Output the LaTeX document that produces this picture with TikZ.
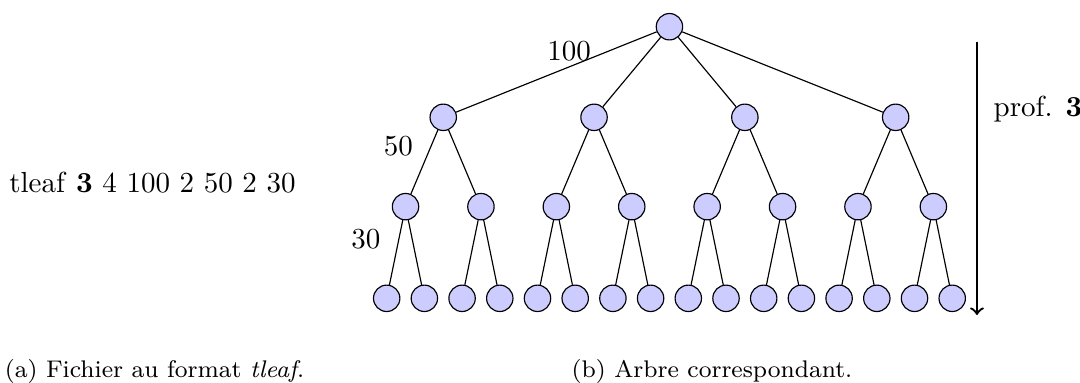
\documentclass[tikz,border=0pt]{standalone}
\usepackage{amsmath,amssymb}
\usepackage{tikz}
\usepackage{xcolor}

\begin{document}
\begin{tikzpicture}[vertex/.style={circle, draw, fill=blue!20, minimum size=0.32cm, inner sep=0pt}]
\useasboundingbox (0,0) rectangle (13.091,-4.642);
% texte du fichier
\node[anchor=base] (fichier) at (1.848,-2.339) {tleaf \textbf{3} 4 100 2 50 2 30};
% noeuds de l'arbre, niveau par niveau
\node[vertex] (r) at ({4.687+0.457*7.5},-0.324) {};
\foreach \k in {1,...,4} \node[vertex] (a\k) at ({4.687+0.457*(4*\k-2.5)},-1.422) {};
\foreach \k in {1,...,8} \node[vertex] (b\k) at ({4.687+0.457*(2*\k-1.5)},-2.505) {};
\foreach \k in {1,...,16} \node[vertex] (c\k) at ({4.687+0.457*(\k-1)},-3.616) {};
% aretes
\foreach \k in {1,...,4} \draw (r) -- (a\k);
\foreach \k in {1,...,8} {\pgfmathtruncatemacro\p{(\k+1)/2} \draw (a\p) -- (b\k);}
\foreach \k in {1,...,16} {\pgfmathtruncatemacro\p{(\k+1)/2} \draw (b\p) -- (c\k);}
% poids des niveaux
\node (p100) at (6.897,-0.624) {100};
\node (p50) at (4.830,-1.776) {50};
\node (p30) at (4.436,-2.897) {30};
% profondeur
\coordinate (haut) at (11.842,-0.509);
\coordinate (bas) at (11.842,-3.818);
\draw[->, thick] (haut) -- (bas);
\node[anchor=base west] (prof) at (11.921,-1.418) {prof. \textbf{3}};
% legendes
\node[anchor=base] (capa) at (1.873,-4.570) {\fontsize{8.3}{10}\selectfont (a) Fichier au format \textit{tleaf}.};
\node[anchor=base] (capb) at (8.630,-4.570) {\fontsize{8.3}{10}\selectfont (b) Arbre correspondant.};
\end{tikzpicture}
\end{document}
